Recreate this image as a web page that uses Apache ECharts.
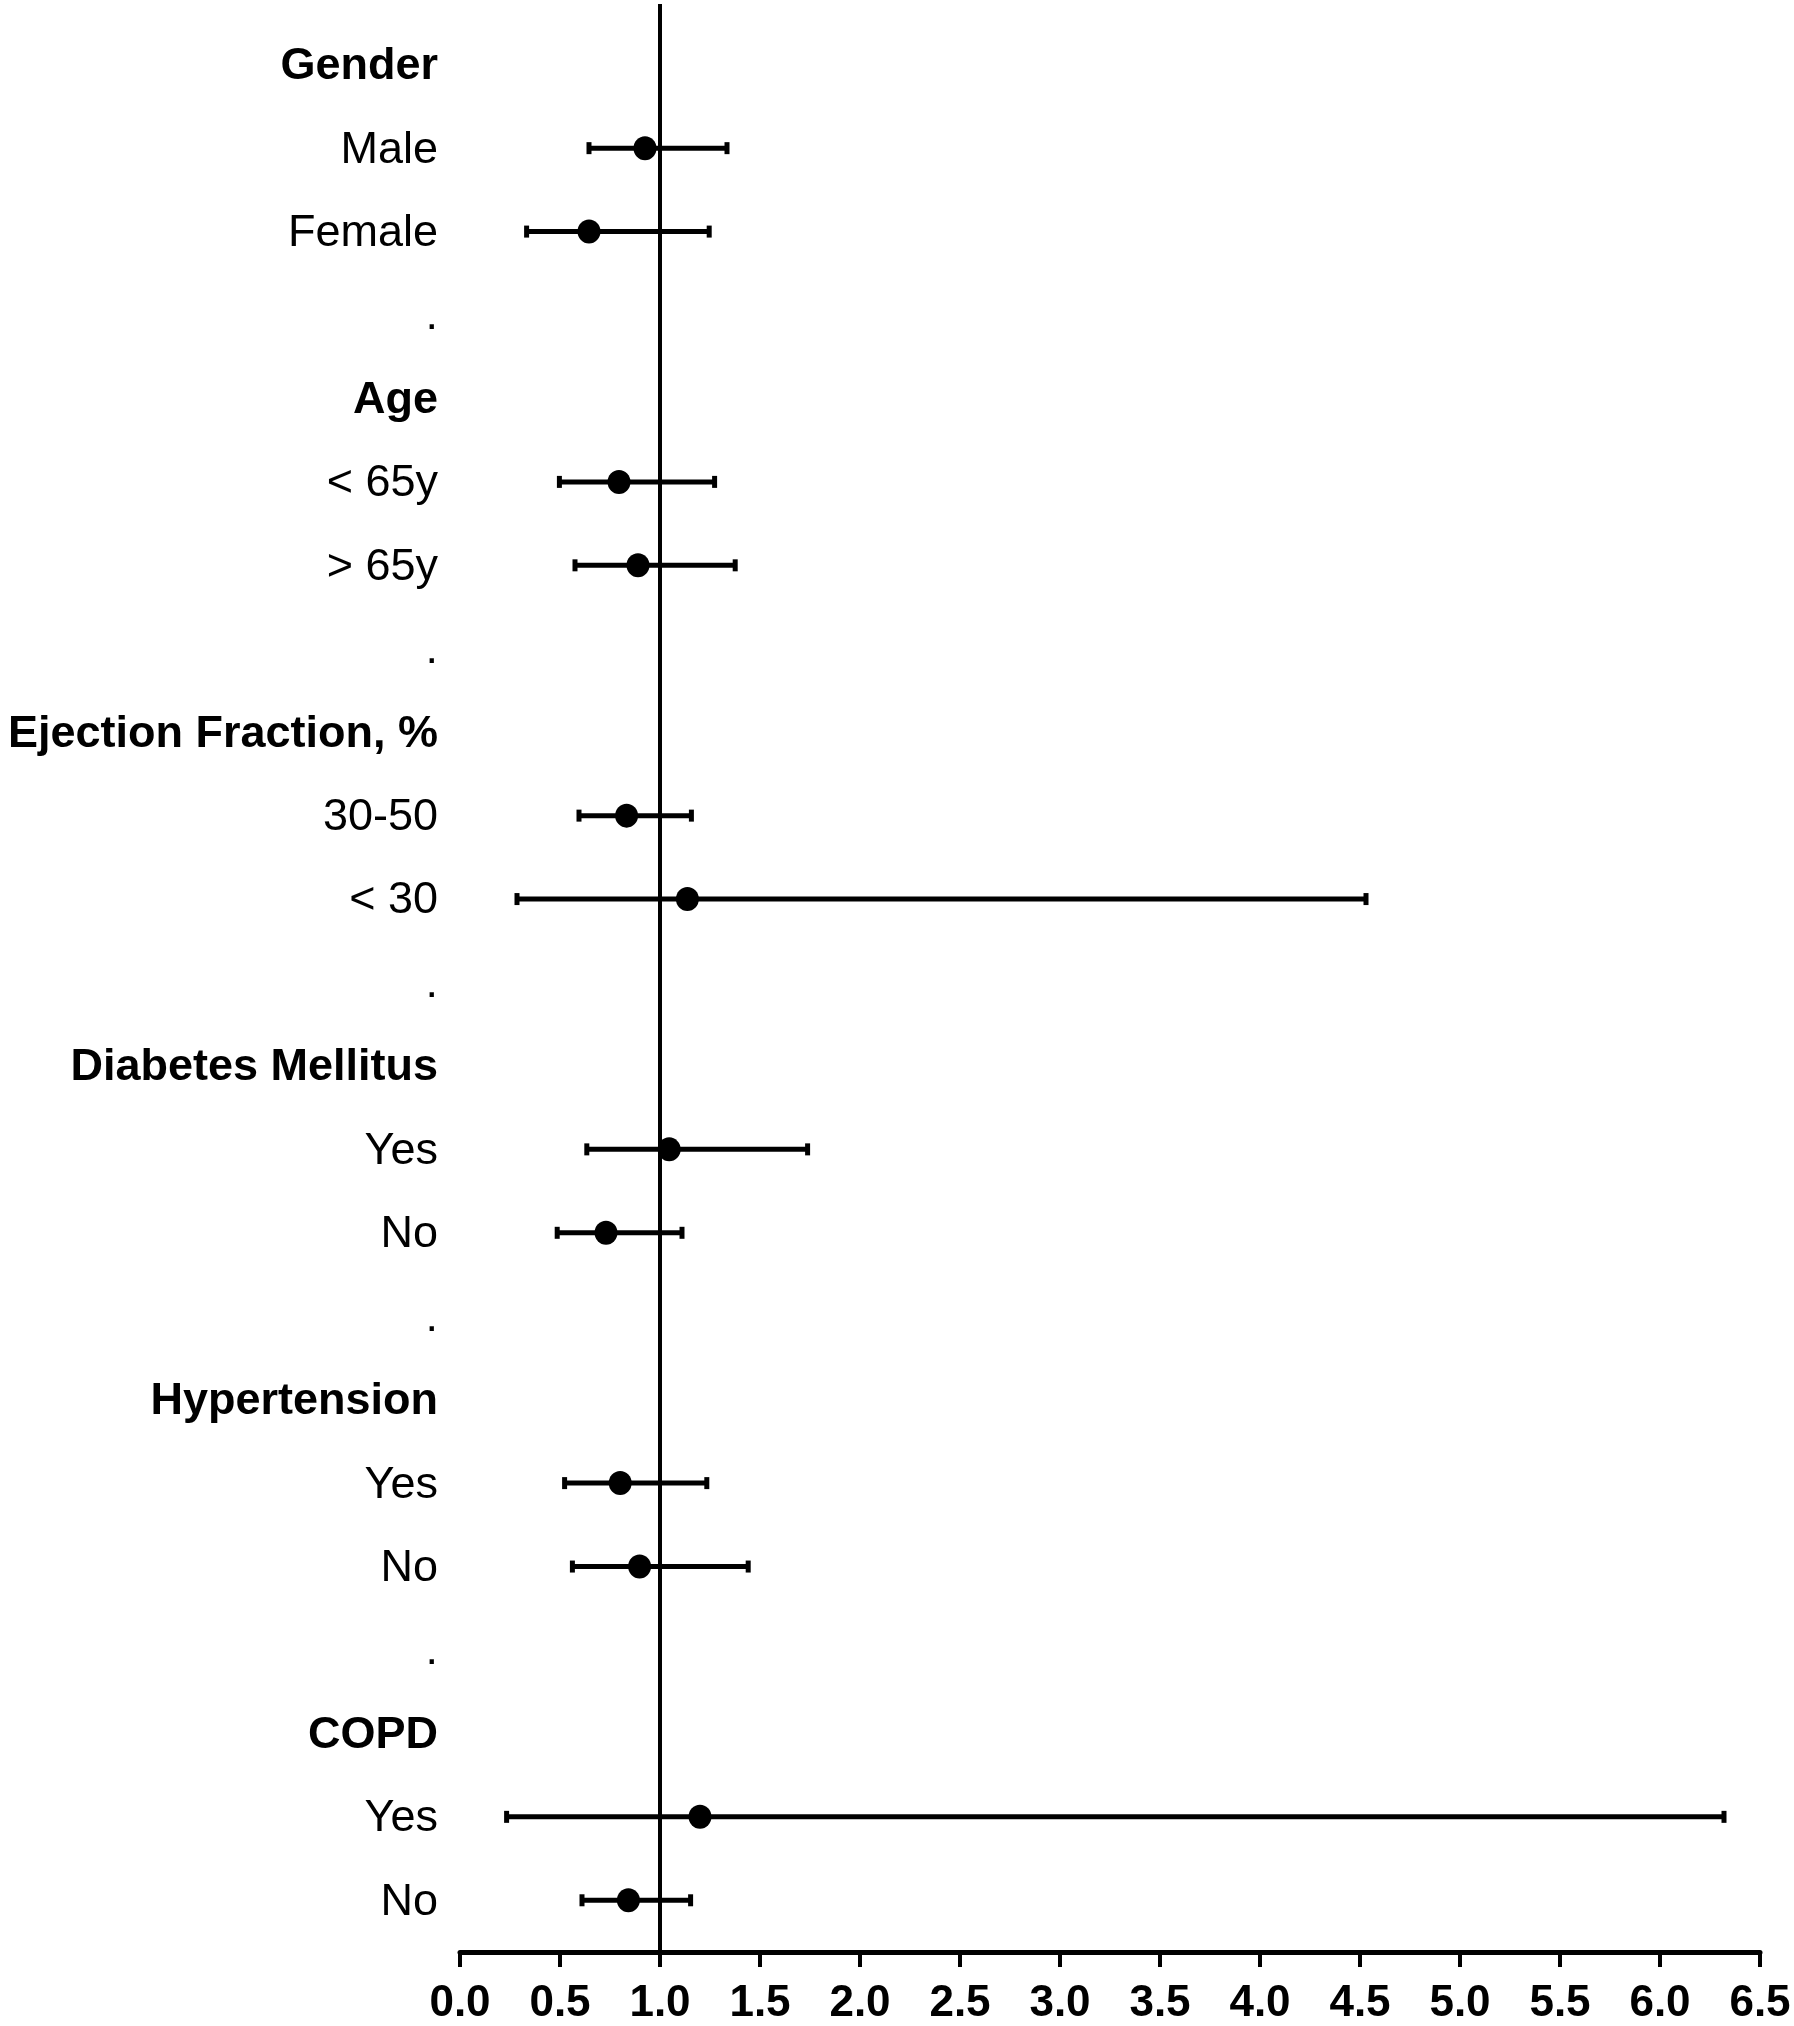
<!DOCTYPE html>
<html>
<head>
<meta charset="utf-8">
<script src="https://cdn.jsdelivr.net/npm/echarts@6/dist/echarts.min.js"></script>
<style>
html,body{margin:0;padding:0;background:#fff;}
#chart{width:1794px;height:2026px;}
</style>
</head>
<body>
<div id="chart"></div>
<script>
// Row labels (top to bottom)
var categories = ['Gender','Male','Female','.','Age','< 65y','> 65y','.','Ejection Fraction, %','30-50','< 30','.','Diabetes Mellitus','Yes','No','.','Hypertension','Yes','No','.','COPD','Yes','No'];
var headerRows = [0, 4, 8, 12, 16, 20];
// Point estimates and confidence limits (null for header/separator rows)
var estimate = [null,0.925,0.645,null,null,0.795,0.89,null,null,0.833,1.137,null,null,1.046,0.73,null,null,0.801,0.898,null,null,1.2,0.842];
var lower    = [null,0.645,0.333,null,null,0.497,0.575,null,null,0.595,0.285,null,null,0.634,0.486,null,null,0.523,0.562,null,null,0.233,0.61];
var upper    = [null,1.335,1.246,null,null,1.273,1.376,null,null,1.157,4.53,null,null,1.738,1.11,null,null,1.234,1.441,null,null,6.32,1.153];
var xTicks = {min: 0, max: 6.5, interval: 0.5};
var referenceValue = 1.0;

var pointData = [], barData = [];
for (var i = 0; i < categories.length; i++) {
  if (estimate[i] !== null) pointData.push([estimate[i], i]);
  if (lower[i] !== null) barData.push([lower[i], upper[i], i]);
}

var FONT = '"Liberation Sans", Arial, Helvetica, sans-serif';
var chart = echarts.init(document.getElementById('chart'), null, {renderer: 'canvas'});

chart.setOption({
  backgroundColor: '#fff',
  animation: false,
  grid: [
    {left: 460, right: 34, top: 4, bottom: 70},
    {left: 460, right: 34, top: 23, bottom: 84}
  ],
  xAxis: [
    {
      gridIndex: 0, type: 'value', min: xTicks.min, max: xTicks.max, interval: xTicks.interval,
      axisLine: {show: true, lineStyle: {color: '#000', width: 5}},
      axisTick: {show: true, length: 15, lineStyle: {color: '#000', width: 4}},
      splitLine: {show: false},
      axisLabel: {
        color: '#000', fontSize: 44, fontWeight: 'bold', fontFamily: FONT, margin: 30,
        formatter: function (v) { return v.toFixed(1); }
      }
    },
    {
      gridIndex: 1, type: 'value', min: xTicks.min, max: xTicks.max, show: false
    }
  ],
  yAxis: [
    {gridIndex: 0, type: 'value', min: 0, max: 1, show: false},
    {
      gridIndex: 1, type: 'category', data: categories, inverse: true, boundaryGap: true,
      axisLine: {show: false}, axisTick: {show: false}, splitLine: {show: false},
      axisLabel: {
        interval: 0, margin: 22, color: '#000', fontSize: 45, fontFamily: FONT,
        padding: [4, 0, 0, 0],
        formatter: function (v, idx) {
          return headerRows.indexOf(idx) >= 0 ? '{b|' + v + '}' : v;
        },
        rich: {b: {fontWeight: 'bold', fontSize: 45, fontFamily: FONT, color: '#000'}}
      }
    }
  ],
  series: [
    {
      type: 'scatter', xAxisIndex: 0, yAxisIndex: 0, data: [], silent: true,
      markLine: {
        silent: true, symbol: 'none', label: {show: false},
        lineStyle: {color: '#000', width: 4, type: 'solid'},
        data: [{xAxis: referenceValue}]
      }
    },
    {
      type: 'custom', xAxisIndex: 1, yAxisIndex: 1, data: barData, z: 3,
      encode: {x: [0, 1], y: 2},
      renderItem: function (params, api) {
        var y = api.value(2);
        var p1 = api.coord([api.value(0), y]);
        var p2 = api.coord([api.value(1), y]);
        var capH = 12;
        var st = {stroke: '#000', lineWidth: 5};
        return {
          type: 'group',
          children: [
            {type: 'line', shape: {x1: p1[0], y1: p1[1], x2: p2[0], y2: p2[1]}, style: st},
            {type: 'line', shape: {x1: p1[0], y1: p1[1] - capH / 2, x2: p1[0], y2: p1[1] + capH / 2}, style: {stroke: '#000', lineWidth: 5}},
            {type: 'line', shape: {x1: p2[0], y1: p2[1] - capH / 2, x2: p2[0], y2: p2[1] + capH / 2}, style: {stroke: '#000', lineWidth: 5}}
          ]
        };
      }
    },
    {
      type: 'scatter', xAxisIndex: 1, yAxisIndex: 1, data: pointData, z: 4,
      symbol: 'circle', symbolSize: [23, 24],
      itemStyle: {color: '#000', opacity: 1}
    }
  ]
});
</script>
</body>
</html>
